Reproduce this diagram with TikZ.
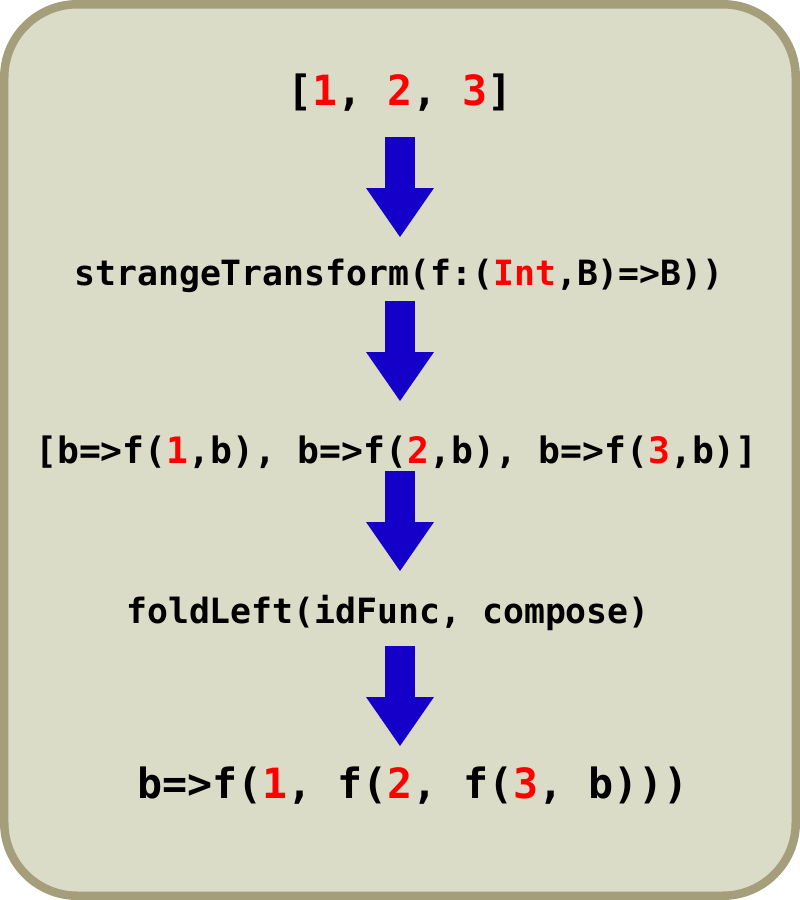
\documentclass[tikz,border=0pt]{standalone}
\usepackage{fontspec}
\setmonofont{DejaVu Sans Mono}
\usetikzlibrary{arrows.meta, positioning, calc}
\definecolor{framefill}{RGB}{218,220,200}
\definecolor{frameline}{RGB}{165,158,123}
\definecolor{arrowblue}{RGB}{20,0,200}
\newcommand{\hl}[1]{\textcolor{red}{#1}}

\begin{document}
\begin{tikzpicture}[x=0.02cm, y=0.02cm]
\tikzstyle{code} = [font=\ttfamily\bfseries\fontsize{19.8}{24}\selectfont, anchor=base, inner sep=0pt]
\tikzstyle{bigcode} = [code, font=\ttfamily\bfseries\fontsize{23.7}{28}\selectfont]
\tikzstyle{flow} = [draw=arrowblue, line width=0.6cm,
    -{Triangle[length=0.98cm, width=1.36cm, line width=0pt, fill=arrowblue]}]

\useasboundingbox (0,0) rectangle (800,-900);
\draw[frameline, fill=framefill, line width=0.17cm, rounded corners=1.46cm]
    (4.25,-4.25) rectangle (795.75,-895.75);

\coordinate (axis) at (400,0);

\node[bigcode] (list) at (400,-105) {[\hl{1}, \hl{2}, \hl{3}]};
\node[code] (transform) at (399,-285) {strangeTransform(f:(\hl{Int},B)=>B))};
\node[code, font=\ttfamily\bfseries\fontsize{20.7}{25}\selectfont] (funcs) at (396.5,-463)
    {[b=>f(\hl{1},b), b=>f(\hl{2},b), b=>f(\hl{3},b)]};
\node[code] (fold) at (388,-623.5) {foldLeft(idFunc, compose)};
\node[bigcode] (result) at (413,-798) {b=>f(\hl{1}, f(\hl{2}, f(\hl{3}, b)))};

\draw[flow] ($(list.base -| axis)+(0,-32)$) -- ($(transform.base -| axis)+(0,48)$);
\draw[flow] ($(transform.base -| axis)+(0,-16)$) -- ($(funcs.base -| axis)+(0,62)$);
\draw[flow] ($(funcs.base -| axis)+(0,-8)$) -- ($(fold.base -| axis)+(0,52.5)$);
\draw[flow] ($(fold.base -| axis)+(0,-22)$) -- ($(result.base -| axis)+(0,52)$);

\end{tikzpicture}
\end{document}
